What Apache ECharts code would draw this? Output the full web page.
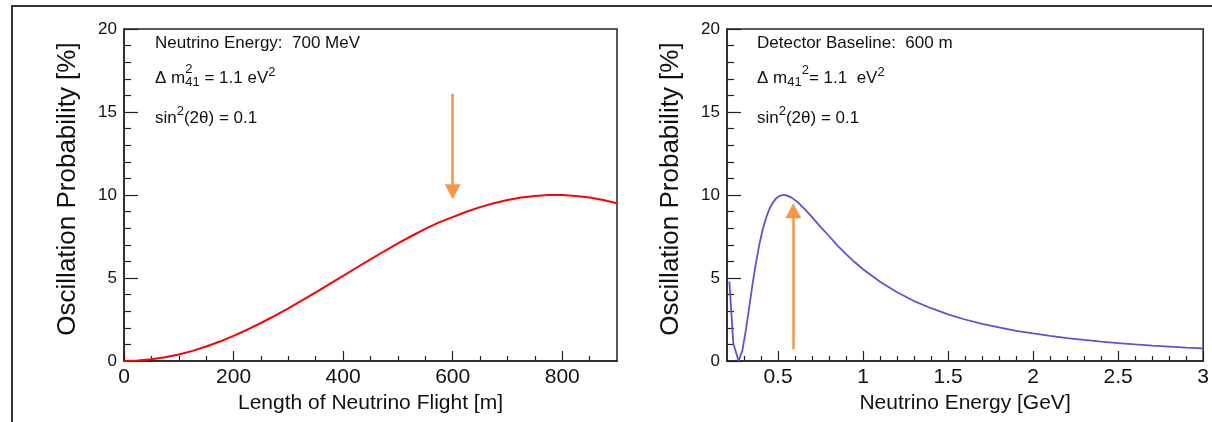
<!DOCTYPE html>
<html>
<head>
<meta charset="utf-8">
<script src="https://cdn.jsdelivr.net/npm/echarts@6/dist/echarts.min.js"></script>
<style>
html,body{margin:0;padding:0;background:#fff;}
#chart{width:1212px;height:422px;}
</style>
</head>
<body>
<div id="chart"></div>
<script>
// ---- data ----
const flightLength = [0,25,50,75,100,125,150,175,200,225,250,275,300,325,350,375,400,425,450,475,500,525,550,575,600,625,650,675,700,725,750,775,800,825,850,875,900];
const probFlight = [0,0.025,0.099,0.222,0.393,0.610,0.870,1.171,1.510,1.884,2.289,2.722,3.177,3.650,4.137,4.633,5.134,5.633,6.128,6.611,7.080,7.530,7.956,8.353,8.670,8.990,9.270,9.508,9.701,9.847,9.945,9.994,9.993,9.943,9.843,9.695,9.501];

const energy = [0.214,0.237,0.268,0.29,0.31,0.33,0.35,0.37,0.39,0.41,0.43,0.45,0.47,0.49,0.51,0.53,0.55,0.58,0.62,0.66,0.70,0.75,0.80,0.85,0.90,0.95,1.0,1.1,1.2,1.3,1.4,1.5,1.6,1.7,1.8,1.9,2.0,2.1,2.2,2.3,2.4,2.5,2.6,2.7,2.8,2.9,3.0];
const probEnergy = [4.8,1.07,0,0.62,1.80,3.20,4.61,5.90,7.01,7.92,8.63,9.17,9.55,9.81,9.95,10.0,9.98,9.84,9.53,9.12,8.67,8.08,7.53,6.95,6.44,5.96,5.53,4.77,4.14,3.61,3.18,2.81,2.50,2.24,2.02,1.82,1.66,1.51,1.38,1.27,1.17,1.08,1.00,0.93,0.87,0.81,0.76];

// arrows: [x, startY, endY]
const arrowFlight = [600, 16.1, 10.2];
const arrowEnergy = [0.59, 0.7, 9.05];

const flightMajorTicks = [0,200,400,600,800];
const flightMinorTicks = [50,100,150,250,300,350,450,500,550,650,700,750,850];
const energyMajorTicks = [0.5,1,1.5,2,2.5,3];
const energyMinorTicks = [0.3,0.4,0.6,0.7,0.8,0.9,1.1,1.2,1.3,1.4,1.6,1.7,1.8,1.9,2.1,2.2,2.3,2.4,2.6,2.7,2.8,2.9];

const yTitle = 'Oscillation Probability [%]';
const xTitleFlight = 'Length of Neutrino Flight [m]';
const xTitleEnergy = 'Neutrino Energy [GeV]';

// ---- chart ----
const FONT = '"Liberation Sans", Arial, sans-serif';
const INK = '#111';
const AX = '#222';

function zip(xs, ys){ return xs.map((x,i)=>[x, ys[i]]); }

const ctx = document.createElement('canvas').getContext('2d');
function textW(t, size){ ctx.font = size + 'px ' + FONT; return ctx.measureText(t).width; }

// build a line of text pieces; piece: {t, s, y} or {stack:[...]}
function textLine(x0, pieces){
  const out = [];
  let x = x0;
  pieces.forEach(p=>{
    const group = p.stack ? p.stack : [p];
    let adv = 0;
    group.forEach(q=>{
      out.push({type:'text', x:x, y:q.y, silent:true,
        style:{text:q.t, font: q.s + 'px ' + FONT, fill: INK, verticalAlign:'middle', align:'left'}});
      adv = Math.max(adv, textW(q.t, q.s));
    });
    x += adv;
  });
  return out;
}

const B = 17, S = 13;
function annotations(x0, firstLine, rightStyle){
  let g = [];
  g = g.concat(textLine(x0, [{t:firstLine, s:B, y:43.5}]));
  if (!rightStyle){
    g = g.concat(textLine(x0, [{t:'Δ m', s:B, y:78}, {stack:[{t:'2', s:S, y:69}, {t:'41', s:S, y:82}]}, {t:' = 1.1 eV', s:B, y:78}, {t:'2', s:S, y:72.5}]));
  } else {
    g = g.concat(textLine(x0, [{t:'Δ m', s:B, y:78}, {t:'41', s:S, y:82}, {t:'2', s:S, y:70}, {t:'= 1.1  eV', s:B, y:78}, {t:'2', s:S, y:72.5}]));
  }
  g = g.concat(textLine(x0, [{t:'sin', s:B, y:118}, {t:'2', s:S, y:111.5}, {t:'(2θ) = 0.1', s:B, y:118}]));
  return g;
}

function yAxisDef(gridIndex){
  return {
    type:'value', gridIndex, min:0, max:20, interval:5, position:'left',
    axisLine:{show:true, lineStyle:{color:AX, width:1.5}},
    axisTick:{show:true, inside:true, length:14, lineStyle:{color:AX, width:1.2}},
    minorTick:{show:true, splitNumber:5, length:7, lineStyle:{color:AX, width:1.2}},
    splitLine:{show:false},
    axisLabel:{fontSize:17, fontFamily:FONT, color:INK, margin:7},
    name:yTitle, nameLocation:'middle', nameRotate:90, nameGap:43,
    nameTextStyle:{fontSize:26, fontFamily:FONT, color:INK, padding:[0,0,0,12]}
  };
}
function xMain(gridIndex, min, max, ticks, title){
  return {
    type:'value', gridIndex, min, max, position:'bottom',
    axisLine:{show:true, onZero:false, lineStyle:{color:AX, width:1.5}},
    axisTick:{show:true, inside:true, length:10, customValues:ticks, lineStyle:{color:AX, width:1.2}},
    splitLine:{show:false},
    axisLabel:{fontSize:21, fontFamily:FONT, color:INK, margin:6, customValues:ticks, showMaxLabel:true},
    name:title, nameLocation:'middle', nameGap:31,
    nameTextStyle:{fontSize:21, fontFamily:FONT, color:INK}
  };
}
function xMinor(gridIndex, min, max, ticks){
  return {
    type:'value', gridIndex, min, max, position:'bottom',
    axisLine:{show:false, onZero:false},
    axisTick:{show:true, inside:true, length:5, customValues:ticks, lineStyle:{color:AX, width:1.2}},
    splitLine:{show:false},
    axisLabel:{show:false}
  };
}
function arrow(a){
  return {
    silent:true, animation:false,
    symbol:['none','triangle'], symbolSize:[16,15],
    label:{show:false}, emphasis:{disabled:true},
    lineStyle:{color:'#f79646', width:2.5, type:'solid'},
    itemStyle:{color:'#f79646'},
    data:[[{coord:[a[0], a[1]]}, {coord:[a[0], a[2]]}]]
  };
}

const option = {
  backgroundColor:'#fff',
  animation:false,
  grid:[
    {left:124, top:29, width:493, height:332, show:true, borderColor:AX, borderWidth:1.5, backgroundColor:'transparent'},
    {left:727, top:29, width:481, height:332, show:true, borderColor:AX, borderWidth:1.5, backgroundColor:'transparent'}
  ],
  xAxis:[
    xMain(0, 0, 900, flightMajorTicks, xTitleFlight),
    xMinor(0, 0, 900, flightMinorTicks),
    xMain(1, 0.2, 3, energyMajorTicks, xTitleEnergy),
    xMinor(1, 0.2, 3, energyMinorTicks)
  ],
  yAxis:[ yAxisDef(0), yAxisDef(1) ],
  series:[
    {type:'line', xAxisIndex:0, yAxisIndex:0, data:zip(flightLength, probFlight), showSymbol:false, smooth:false,
     lineStyle:{color:'#ff0000', width:2}, itemStyle:{color:'#ff0000'}, markLine:arrow(arrowFlight)},
    {type:'line', xAxisIndex:2, yAxisIndex:1, data:zip(energy, probEnergy), showSymbol:false, smooth:false,
     lineStyle:{color:'#5954d8', width:1.8}, itemStyle:{color:'#5954d8'}, markLine:arrow(arrowEnergy)}
  ],
  graphic:[
    {type:'polyline', silent:true, shape:{points:[[12,422],[12,6],[1212,6]]}, style:{stroke:'#333', lineWidth:2, fill:null}}
  ].concat(annotations(155, 'Neutrino Energy:  700 MeV', false))
   .concat(annotations(757, 'Detector Baseline:  600 m', true))
};

const chart = echarts.init(document.getElementById('chart'), null, {renderer:'canvas'});
chart.setOption(option);
</script>
</body>
</html>
